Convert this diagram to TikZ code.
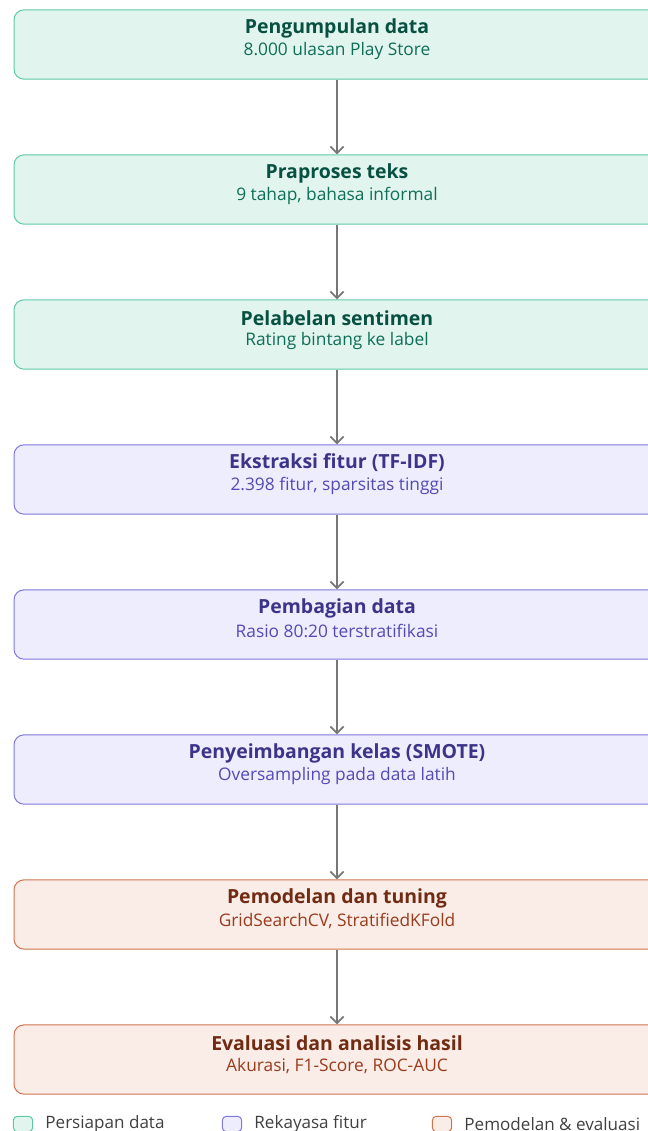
\documentclass[tikz,border=0pt]{standalone}
\usepackage{fontspec}
\setmainfont{Open Sans}
\usepackage{xcolor}
\usepackage{tikz}
\usetikzlibrary{positioning,arrows.meta}
\definecolor{grnFill}{HTML}{E1F5EE}
\definecolor{grnLine}{HTML}{5DCAA5}
\definecolor{grnHead}{HTML}{085041}
\definecolor{grnSub}{HTML}{0F6E56}
\definecolor{purFill}{HTML}{EEEDFE}
\definecolor{purLine}{HTML}{7F77DD}
\definecolor{purHead}{HTML}{3C3489}
\definecolor{purSub}{HTML}{534AB7}
\definecolor{corFill}{HTML}{FAECE7}
\definecolor{corLine}{HTML}{D0734F}
\definecolor{corHead}{HTML}{712B13}
\definecolor{corSub}{HTML}{993C1D}
\definecolor{flowGray}{HTML}{777777}

\begin{document}
\begin{tikzpicture}[
    x=0.75pt, y=-0.75pt,
    stage/.style={rectangle,rounded corners=7.5pt,line width=0.75pt,
        minimum width=484.5pt,minimum height=52pt,inner sep=0pt},
    prepbox/.style={stage,draw=grnLine,fill=grnFill},
    featbox/.style={stage,draw=purLine,fill=purFill},
    modbox/.style={stage,draw=corLine,fill=corFill},
    head/.style={font=\fontsize{14.6}{16}\selectfont\bfseries,inner sep=0pt},
    sub/.style={font=\fontsize{13}{15}\selectfont,inner sep=0pt},
    flow/.style={draw=flowGray,line width=1.5pt,-{Straight Barb[length=5pt,width=10pt,line width=1.3pt]}},
    key/.style={rectangle,rounded corners=3pt,line width=0.75pt,
        minimum width=14.5pt,minimum height=11.5pt,inner sep=0pt},
    keytext/.style={font=\fontsize{12.8}{15}\selectfont,text=black!75,anchor=west,inner sep=0pt}
]
\useasboundingbox (0,0) rectangle (648,1131);
\clip (0,0) rectangle (648,1131);

% data preparation
\node[prepbox] (collect) at (337,44.5) {};
\node[head,text=grnHead] (collectH) at (337,28) {Pengumpulan data};
\node[sub,text=grnSub] (collectS) at (337,51) {8.000 ulasan Play Store};

\node[prepbox] (clean) at (337,189.5) {};
\node[head,text=grnHead] (cleanH) at (337,173) {Praproses teks};
\node[sub,text=grnSub] (cleanS) at (337,196) {9 tahap, bahasa informal};

\node[prepbox] (label) at (337,334.5) {};
\node[head,text=grnHead] (labelH) at (337,318) {Pelabelan sentimen};
\node[sub,text=grnSub] (labelS) at (337,341) {Rating bintang ke label};

% feature engineering
\node[featbox] (tfidf) at (337,479.5) {};
\node[head,text=purHead] (tfidfH) at (337,463) {Ekstraksi fitur (TF-IDF)};
\node[sub,text=purSub] (tfidfS) at (337,486) {2.398 fitur, sparsitas tinggi};

\node[featbox] (split) at (337,624.5) {};
\node[head,text=purHead] (splitH) at (337,608) {Pembagian data};
\node[sub,text=purSub] (splitS) at (337,631) {Rasio 80:20 terstratifikasi};

\node[featbox] (smote) at (337,769.5) {};
\node[head,text=purHead] (smoteH) at (337,753) {Penyeimbangan kelas (SMOTE)};
\node[sub,text=purSub] (smoteS) at (337,776) {Oversampling pada data latih};

% modelling and evaluation
\node[modbox] (tune) at (337,914.5) {};
\node[head,text=corHead] (tuneH) at (337,898) {Pemodelan dan tuning};
\node[sub,text=corSub] (tuneS) at (337,921) {GridSearchCV, StratifiedKFold};

\node[modbox] (eval) at (337,1059.5) {};
\node[head,text=corHead] (evalH) at (337,1043) {Evaluasi dan analisis hasil};
\node[sub,text=corSub] (evalS) at (337,1066) {Akurasi, F1-Score, ROC-AUC};

\draw[flow] (collect) -- (clean);
\draw[flow] (clean) -- (label);
\draw[flow] (label) -- (tfidf);
\draw[flow] (tfidf) -- (split);
\draw[flow] (split) -- (smote);
\draw[flow] (smote) -- (tune);
\draw[flow] (tune) -- (eval);

% legend
\node[key,draw=grnLine,fill=grnFill] (keyPrep) at (23,1124) {};
\node[keytext,right=9pt of keyPrep] (keyPrepT) {Persiapan data};
\node[key,draw=purLine,fill=purFill] (keyFeat) at (232,1124) {};
\node[keytext,right=9pt of keyFeat] (keyFeatT) {Rekayasa fitur};
\node[key,draw=corLine,fill=corFill] (keyMod) at (442,1124) {};
\node[keytext,right=9pt of keyMod] (keyModT) {Pemodelan \& evaluasi};
\end{tikzpicture}
\end{document}
